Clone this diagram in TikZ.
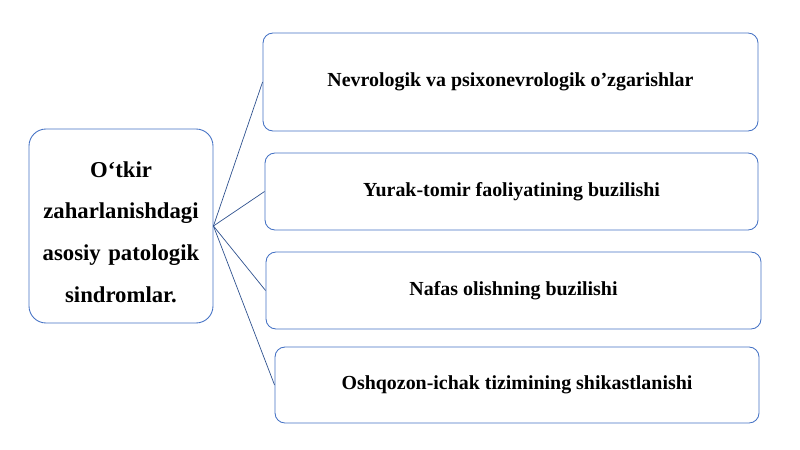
\documentclass[tikz,border=0pt]{standalone}
\usepackage{fontspec}
\setmainfont{Liberation Serif}
\usepackage{tikz}
\usetikzlibrary{positioning}

\definecolor{BoxBlue}{RGB}{68,114,196}
\definecolor{LinkBlue}{RGB}{47,82,143}

\tikzset{
	mainbox/.style={draw=BoxBlue, line width=0.75pt, rounded corners=0.51cm, align=center,
		minimum width=184*0.03cm, minimum height=194*0.03cm, text width=176*0.03cm,
		font=\bfseries\fontsize{19.4}{35.7}\selectfont},
	itembox/.style={draw=BoxBlue, line width=0.75pt, rounded corners=0.3cm, align=center,
		inner sep=0pt, font=\bfseries\fontsize{17}{20}\selectfont},
	link/.style={draw=LinkBlue, line width=0.6pt},
}

\begin{document}
\begin{tikzpicture}[x=0.03cm, y=-0.03cm]
	\useasboundingbox (0,0) rectangle (800,450);
	
	% ---------------------
	% Main syndrome box
	\node[mainbox] (Syndrome) at (121,226) {\rule{0pt}{24pt}O‘tkir\\ zaharlanishdagi\\ asosiy patologik\\ sindromlar.};
	
	% ---------------------
	% Item boxes
	\node[itembox, minimum width=495*0.03cm, minimum height=98*0.03cm] (Neuro) at (510.5,82) {Nevrologik va psixonevrologik o’zgarishlar};
	\node[itembox, minimum width=493*0.03cm, minimum height=77*0.03cm] (Heart) at (511.5,191.5) {Yurak-tomir faoliyatining buzilishi};
	\node[itembox, minimum width=495*0.03cm, minimum height=77*0.03cm] (Breath) at (513.5,290.5) {Nafas olishning buzilishi};
	\node[itembox, minimum width=484*0.03cm, minimum height=76*0.03cm] (Gut) at (517,385) {Oshqozon-ichak tizimining shikastlanishi};
	
	% ---------------------
	% Links
	\foreach \item in {Neuro, Heart, Breath, Gut}
		\draw[link] (Syndrome.east) -- (\item.west);
	
\end{tikzpicture}
\end{document}
